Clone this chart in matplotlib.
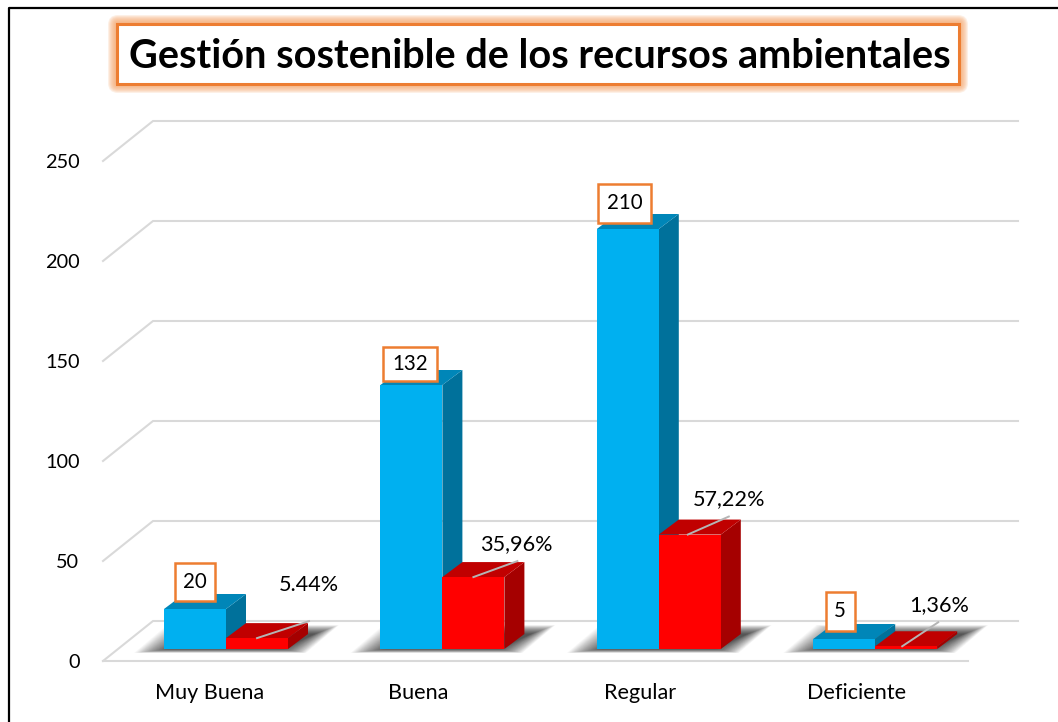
import matplotlib
matplotlib.use("Agg")
import matplotlib.pyplot as plt
from matplotlib.patches import Polygon, Rectangle, FancyBboxPatch
from matplotlib.lines import Line2D
from matplotlib.transforms import IdentityTransform

categories = ["Muy Buena", "Buena", "Regular", "Deficiente"]
counts = [20, 132, 210, 5]
percents = [5.44, 35.96, 57.22, 1.36]
percent_labels = ["5.44%", "35,96%", "57,22%", "1,36%"]
y_ticks = [0, 50, 100, 150, 200, 250]
title = "Gestión sostenible de los recursos ambientales"

W, H = 1058, 722
BLUE, BLUE_TOP, BLUE_SIDE = "#00B0F0", "#0086B8", "#00719B"
RED, RED_TOP, RED_SIDE = "#FF0000", "#C00000", "#A50000"
GRID = "#D9D9D9"
ORANGE = "#ED7D31"

plt.rcParams["font.family"] = ["Lato", "DejaVu Sans"]
fig = plt.figure(figsize=(W / 100, H / 100), dpi=100, facecolor="white")
L, R, B, T = 103, 968, 661, 161
ax = fig.add_axes([L / W, 1 - B / H, (R - L) / W, (B - T) / H])
ax.set_facecolor("none")
STEP = 216.4   # pixels between groups
X0 = 226       # pixel of first group's centre
ax.set_xlim((L - X0) / STEP, (R - X0) / STEP)
ax.set_ylim(0, 250)
for s in ax.spines.values():
    s.set_visible(False)

PXU_Y = (B - T) / 250
dxp = lambda p: p / STEP
dyp = lambda p: p / PXU_Y
BASE = dyp(12)
BAR_W = dxp(62)
DX, DY = dxp(20), dyp(15)
WALL_X, WALL_Y = dxp(50), dyp(40)

# ticks
tick_shift = [-16, -24, -19, -19]
ax.set_yticks(y_ticks)
ax.set_yticklabels([str(v) for v in y_ticks], fontsize=14.3, color="black")
ax.tick_params(axis="y", length=0, pad=17)
ax.set_xticks([i + dxp(tick_shift[i]) for i in range(len(categories))])
ax.set_xticklabels(categories, fontsize=15.6, color="black")
ax.tick_params(axis="x", length=0, pad=16)

xl, xr = ax.get_xlim()
for v in y_ticks:
    ax.plot([xl, xl + WALL_X, xr + WALL_X], [v, v + WALL_Y, v + WALL_Y],
            color=GRID, lw=1.5, clip_on=False, zorder=1, solid_joinstyle="miter")
ax.plot([xl, xr], [0, 0], color=GRID, lw=1.5, clip_on=False, zorder=1)


def box(x, w, v, front, top, side, z):
    y0, y1 = BASE, BASE + v
    ax.add_patch(Polygon([(x + w, y0), (x + w + DX, y0 + DY), (x + w + DX, y1 + DY), (x + w, y1)],
                         fc=side, ec="none", zorder=z, clip_on=False))
    ax.add_patch(Polygon([(x, y1), (x + w, y1), (x + w + DX, y1 + DY), (x + DX, y1 + DY)],
                         fc=top, ec="none", zorder=z, clip_on=False))
    ax.add_patch(Rectangle((x, y0), w, v, fc=front, ec="none", zorder=z + 0.1, clip_on=False))


# soft floor shadows
LAYERS = 40
for i in range(len(categories)):
    for k in range(LAYERS):
        t = k / (LAYERS - 1)
        xa = i - BAR_W + dxp(-30 + 36 * t)
        xb = i + BAR_W + dxp(18 - 24 * t)
        y_lo = BASE + dyp(-4 + 4 * t)
        y_hi = BASE + dyp(24 - 9 * t)
        skew = dxp(33)
        ax.add_patch(Polygon([(xa, y_lo), (xb, y_lo), (xb + skew, y_hi), (xa + skew, y_hi)],
                             fc="black", ec="none", alpha=0.022, zorder=2, clip_on=False))

# bars
for i in range(len(categories)):
    box(i - BAR_W, BAR_W, counts[i], BLUE, BLUE_TOP, BLUE_SIDE, 3 + i * 0.01)
    box(i, BAR_W, percents[i], RED, RED_TOP, RED_SIDE, 3.5 + i * 0.01)

# data labels: offsets (pixels) from the bar's top-front centre
count_off = [(0, 27), (-1, 21), (-3, 26), (-4, 28)]
count_box = [(40, 38), (54, 34), (53, 39), (29, 39)]
pct_off = [(52, 53), (43, 33), (39, 35), (33, 41)]
leader_a = [0, 0, -2, -4]
leader_b = [(52, 17), (44, 16), (41, 18), (36, 24)]

for i in range(len(categories)):
    xc = i - BAR_W / 2
    ytop_c = BASE + counts[i]
    bx = xc + dxp(count_off[i][0])
    by = ytop_c + dyp(count_off[i][1])
    bw, bh = dxp(count_box[i][0]), dyp(count_box[i][1])
    ax.add_patch(Rectangle((bx - bw / 2, by - bh / 2), bw, bh, fc="white", ec=ORANGE, lw=1.8,
                           zorder=6, clip_on=False))
    ax.text(bx, by, str(counts[i]), ha="center", va="center", fontsize=14.8, zorder=7)
    xr_c = i + BAR_W / 2
    ytop = BASE + percents[i]
    ax.annotate(percent_labels[i], (xr_c, ytop), xytext=pct_off[i], textcoords="offset pixels",
                ha="center", va="center", fontsize=15.6, zorder=6)
    xs = xr_c + dxp(leader_a[i])
    ax.plot([xs, xs + dxp(leader_b[i][0])], [ytop, ytop + dyp(leader_b[i][1])],
            color="#B5B5B5", lw=1.4, zorder=5, clip_on=False)

# title box with glow
for g in range(9, 0, -1):
    fig.add_artist(FancyBboxPatch((117, H - 84), 842, 60, boxstyle=f"round,pad={g},rounding_size={g + 1}",
                                  transform=IdentityTransform(), fc="#F6A66C", ec="none",
                                  alpha=0.17, zorder=5))
fig.add_artist(Rectangle((117 / W, 1 - 84 / H), 842 / W, 60 / H, transform=fig.transFigure,
                         fc="white", ec=ORANGE, lw=2.2, zorder=6))
fig.text(540 / W, 1 - 56 / H, title, ha="center", va="center", fontsize=28.5, fontweight="bold",
         color="black", zorder=7)

# outer frame
fig.add_artist(Line2D([8.5 / W, 8.5 / W, 1], [0, 1 - 7.5 / H, 1 - 7.5 / H],
                      transform=fig.transFigure, color="black", lw=1.6, zorder=8))

fig.savefig("out.png", dpi=100)
